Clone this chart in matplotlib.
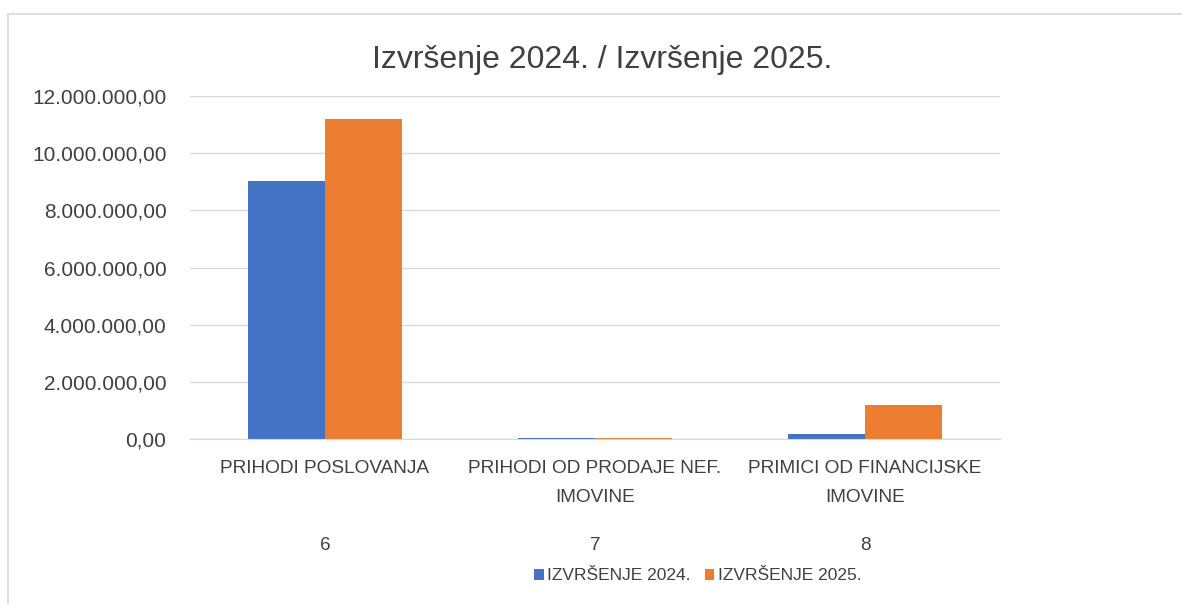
import numpy as np
import matplotlib.pyplot as plt
from matplotlib.patches import Rectangle

# data
codes = ['6', '7', '8']
names = ['PRIHODI POSLOVANJA', 'PRIHODI OD PRODAJE NEF.\nIMOVINE', 'PRIMICI OD FINANCIJSKE\nIMOVINE']
izvrsenje_2024 = [9030000, 40000, 170000]
izvrsenje_2025 = [11200000, 40000, 1190000]
yticks = [0, 2000000, 4000000, 6000000, 8000000, 10000000, 12000000]

plt.rcParams['font.family'] = ['Liberation Sans', 'DejaVu Sans']

fig = plt.figure(figsize=(11.82, 6.04), dpi=100)
# chart border (cut off on right and bottom like the reference)
fig.patches.append(Rectangle((8 / 1182, -0.1), 1.2, (604 - 14) / 604 + 0.1,
                             transform=fig.transFigure, fill=False,
                             edgecolor='#d9d9d9', linewidth=1.2))

ax = fig.add_axes([190 / 1182, (604 - 439) / 604, 810 / 1182, 343 / 604])
x = np.arange(len(codes))
w = 0.285
ax.bar(x - w / 2, izvrsenje_2024, w, color='#4472c4', label='IZVRŠENJE 2024.')
ax.bar(x + w / 2, izvrsenje_2025, w, color='#ed7d31', label='IZVRŠENJE 2025.')

ax.set_xlim(-0.5, 2.5)
ax.set_ylim(0, 12000000)
ax.set_yticks(yticks)
ax.set_yticklabels(['{:,.2f}'.format(v).replace(',', 'X').replace('.', ',').replace('X', '.') for v in yticks])
ax.yaxis.grid(True, color='#d9d9d9', linewidth=1)
ax.set_axisbelow(True)
for s in ['top', 'right', 'left']:
    ax.spines[s].set_visible(False)
ax.spines['bottom'].set_color('#d9d9d9')
ax.tick_params(axis='y', length=0, labelsize=15, colors='#404040', pad=17)
ax.tick_params(axis='x', length=0)
ax.set_xticks(x)
ax.set_xticklabels([])

for i in range(len(codes)):
    ax.text(x[i], -0.06, names[i], transform=ax.get_xaxis_transform(), ha='center', va='top',
            fontsize=13.7, color='#404040', linespacing=1.95)
    ax.text(x[i], -0.285, codes[i], transform=ax.get_xaxis_transform(), ha='center', va='top',
            fontsize=13.7, color='#404040')

fig.text(602 / 1182, 1 - 60 / 604, 'Izvršenje 2024. / Izvršenje 2025.', ha='center', va='center',
         fontsize=23, color='#404040')

fig.legend(loc='center', bbox_to_anchor=(698 / 1182, 1 - 576 / 604), ncol=2, frameon=False,
           fontsize=12.5, handlelength=0.55, handleheight=0.55, handletextpad=0.2, columnspacing=0.8,
           labelcolor='#404040')

fig.savefig('out.png', dpi=100)
